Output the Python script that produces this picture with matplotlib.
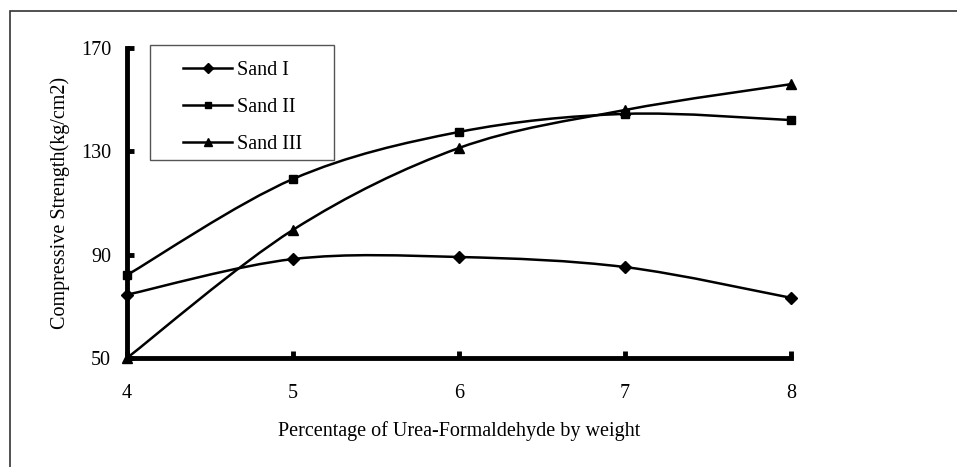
import numpy as np
import matplotlib
matplotlib.use('Agg')
from matplotlib import pyplot as plt
from matplotlib.path import Path
from matplotlib.patches import PathPatch, Rectangle
from matplotlib.lines import Line2D

plt.rcParams['font.family'] = ['Liberation Serif', 'DejaVu Serif']

# Data
percent = [4, 5, 6, 7, 8]
sand_1 = [74.5, 88.3, 89.1, 85.2, 73.3]
sand_2 = [82.1, 119.3, 137.5, 144.5, 142.1]
sand_3 = [50.0, 99.6, 131.3, 146.0, 156.0]
series = [('Sand I', sand_1, 'D', 6), ('Sand II', sand_2, 's', 6), ('Sand III', sand_3, '^', 7)]

FS = 14.5


def smooth_path(x, y, t=1.0 / 6):
    # Excel-like smoothed line: cubic Bezier segments through the points
    x = np.asarray(x, float)
    y = np.asarray(y, float)
    verts = [(x[0], y[0])]
    codes = [Path.MOVETO]
    n = len(x)
    for i in range(n - 1):
        i0 = max(i - 1, 0)
        i3 = min(i + 2, n - 1)
        c1 = (x[i] + (x[i + 1] - x[i0]) * t, y[i] + (y[i + 1] - y[i0]) * t)
        c2 = (x[i + 1] - (x[i3] - x[i]) * t, y[i + 1] - (y[i3] - y[i]) * t)
        verts += [c1, c2, (x[i + 1], y[i + 1])]
        codes += [Path.CURVE4] * 3
    return Path(verts, codes)


fig = plt.figure(figsize=(9.57, 4.67), dpi=100)
ax = fig.add_axes([127 / 957, 1 - 358 / 467, 664 / 957, 310 / 467])

for label, vals, mk, ms in series:
    ax.add_patch(PathPatch(smooth_path(percent, vals), facecolor='none', edgecolor='black', lw=1.8,
                           clip_on=False, zorder=3))
    ax.plot(percent, vals, linestyle='none', marker=mk, markersize=ms, color='black', clip_on=False, zorder=4)

ax.set_xlim(4, 8)
ax.set_ylim(50, 170)
ax.set_xticks(percent)
ax.set_yticks([50, 90, 130, 170])
for side in ['top', 'right']:
    ax.spines[side].set_visible(False)
for side in ['left', 'bottom']:
    ax.spines[side].set_linewidth(3.5)
ax.tick_params(direction='in', length=5, width=3.5, labelsize=FS)
ax.tick_params(axis='y', pad=11.5)
ax.tick_params(axis='x', pad=19)
ax.set_xlabel('Percentage of Urea-Formaldehyde by weight', fontsize=FS, labelpad=13)
ax.set_ylabel('Compressive Strength(kg/cm2)', fontsize=FS, labelpad=8)

# legend with a hand-drawn box
fig.patches.append(Rectangle((150 / 957, 1 - 160 / 467), 184 / 957, 115 / 467, transform=fig.transFigure,
                             facecolor='white', edgecolor='#555555', lw=1, zorder=5))
handles = [Line2D([], [], color='black', lw=1.8, marker=mk, markersize=ms - 1) for _, _, mk, ms in series]
fig.legend(handles, [s[0] for s in series], loc='upper left', bbox_to_anchor=(183 / 957, 1 - 61 / 467),
           frameon=False, fontsize=FS, handlelength=2.45, handletextpad=0.25, labelspacing=0.88,
           borderpad=0, borderaxespad=0)
fig.legends[0].set_zorder(6)

# outer chart frame
fig.patches.append(Rectangle((10 / 957, -0.1), 1.2, 1.1 - 11 / 467, transform=fig.transFigure,
                             facecolor='none', edgecolor='#333333', lw=1.2))

fig.savefig('out.png', dpi=100)
